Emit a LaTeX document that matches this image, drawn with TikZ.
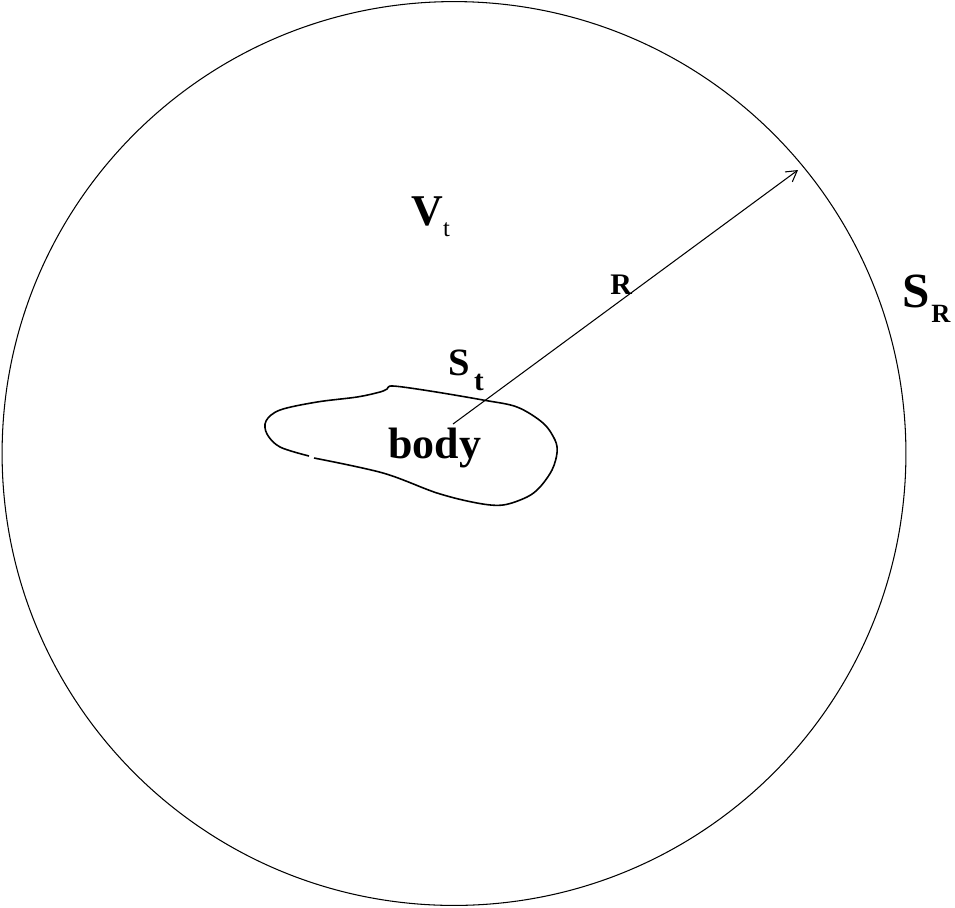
\documentclass[tikz,border=0pt]{standalone}
\usepackage{fontspec}
\setmainfont{Liberation Serif}
\usetikzlibrary{arrows.meta}
\newcommand{\fs}[1]{\fontsize{#1}{#1}\selectfont}
\tikzset{
    lab/.style={anchor=base west, inner sep=0pt, font=\bfseries},
    outline/.style={line width=0.6pt}
}
\begin{document}
\begin{tikzpicture}[x=0.02cm, y=-0.02cm, >={Straight Barb[length=6pt, width=7pt]}]
        \useasboundingbox (0,0) rectangle (955,907);
        % Outer sphere
        \coordinate (O) at (454,453.5);
        \draw[outline] (O) circle (9.04cm);
        % Body outline (small gap on the lower left)
        \draw[line width=0.9pt] plot[smooth, tension=0.55] coordinates {
            (309,456) (280,447) (267,434) (266,421) (280,410) (317,402)
            (357,397) (380,392) (387,389) (393,386) (430,391) (483,400)
            (517,407) (543,423) (555,440) (557,453) (552,470) (540,487)
            (527,497) (503,505) (477,503) (437,493) (383,473) (314,458)};
        % Radius arrow
        \coordinate (centre) at (453,424);
        \coordinate (tip) at (798,170);
        \draw[outline, ->] (centre) -- (tip);
        % Labels
        \node[lab] (Vt) at (411,225) {\fs{25}V\kern0pt\raisebox{-6.8pt}{\fs{14}\mdseries t}};
        \node[lab] (Rlab) at (610,294) {\fs{17}R};
        \node[lab] (SR) at (902,307) {\fs{28}S\kern1pt\raisebox{-9pt}{\fs{15}R}};
        \node[lab] (St) at (448,375) {\fs{22}S\kern2.5pt\raisebox{-9pt}{\fs{16.5}t}};
        \node[lab] (body) at (388,458) {\fs{25}body};
    \end{tikzpicture}
\end{document}
